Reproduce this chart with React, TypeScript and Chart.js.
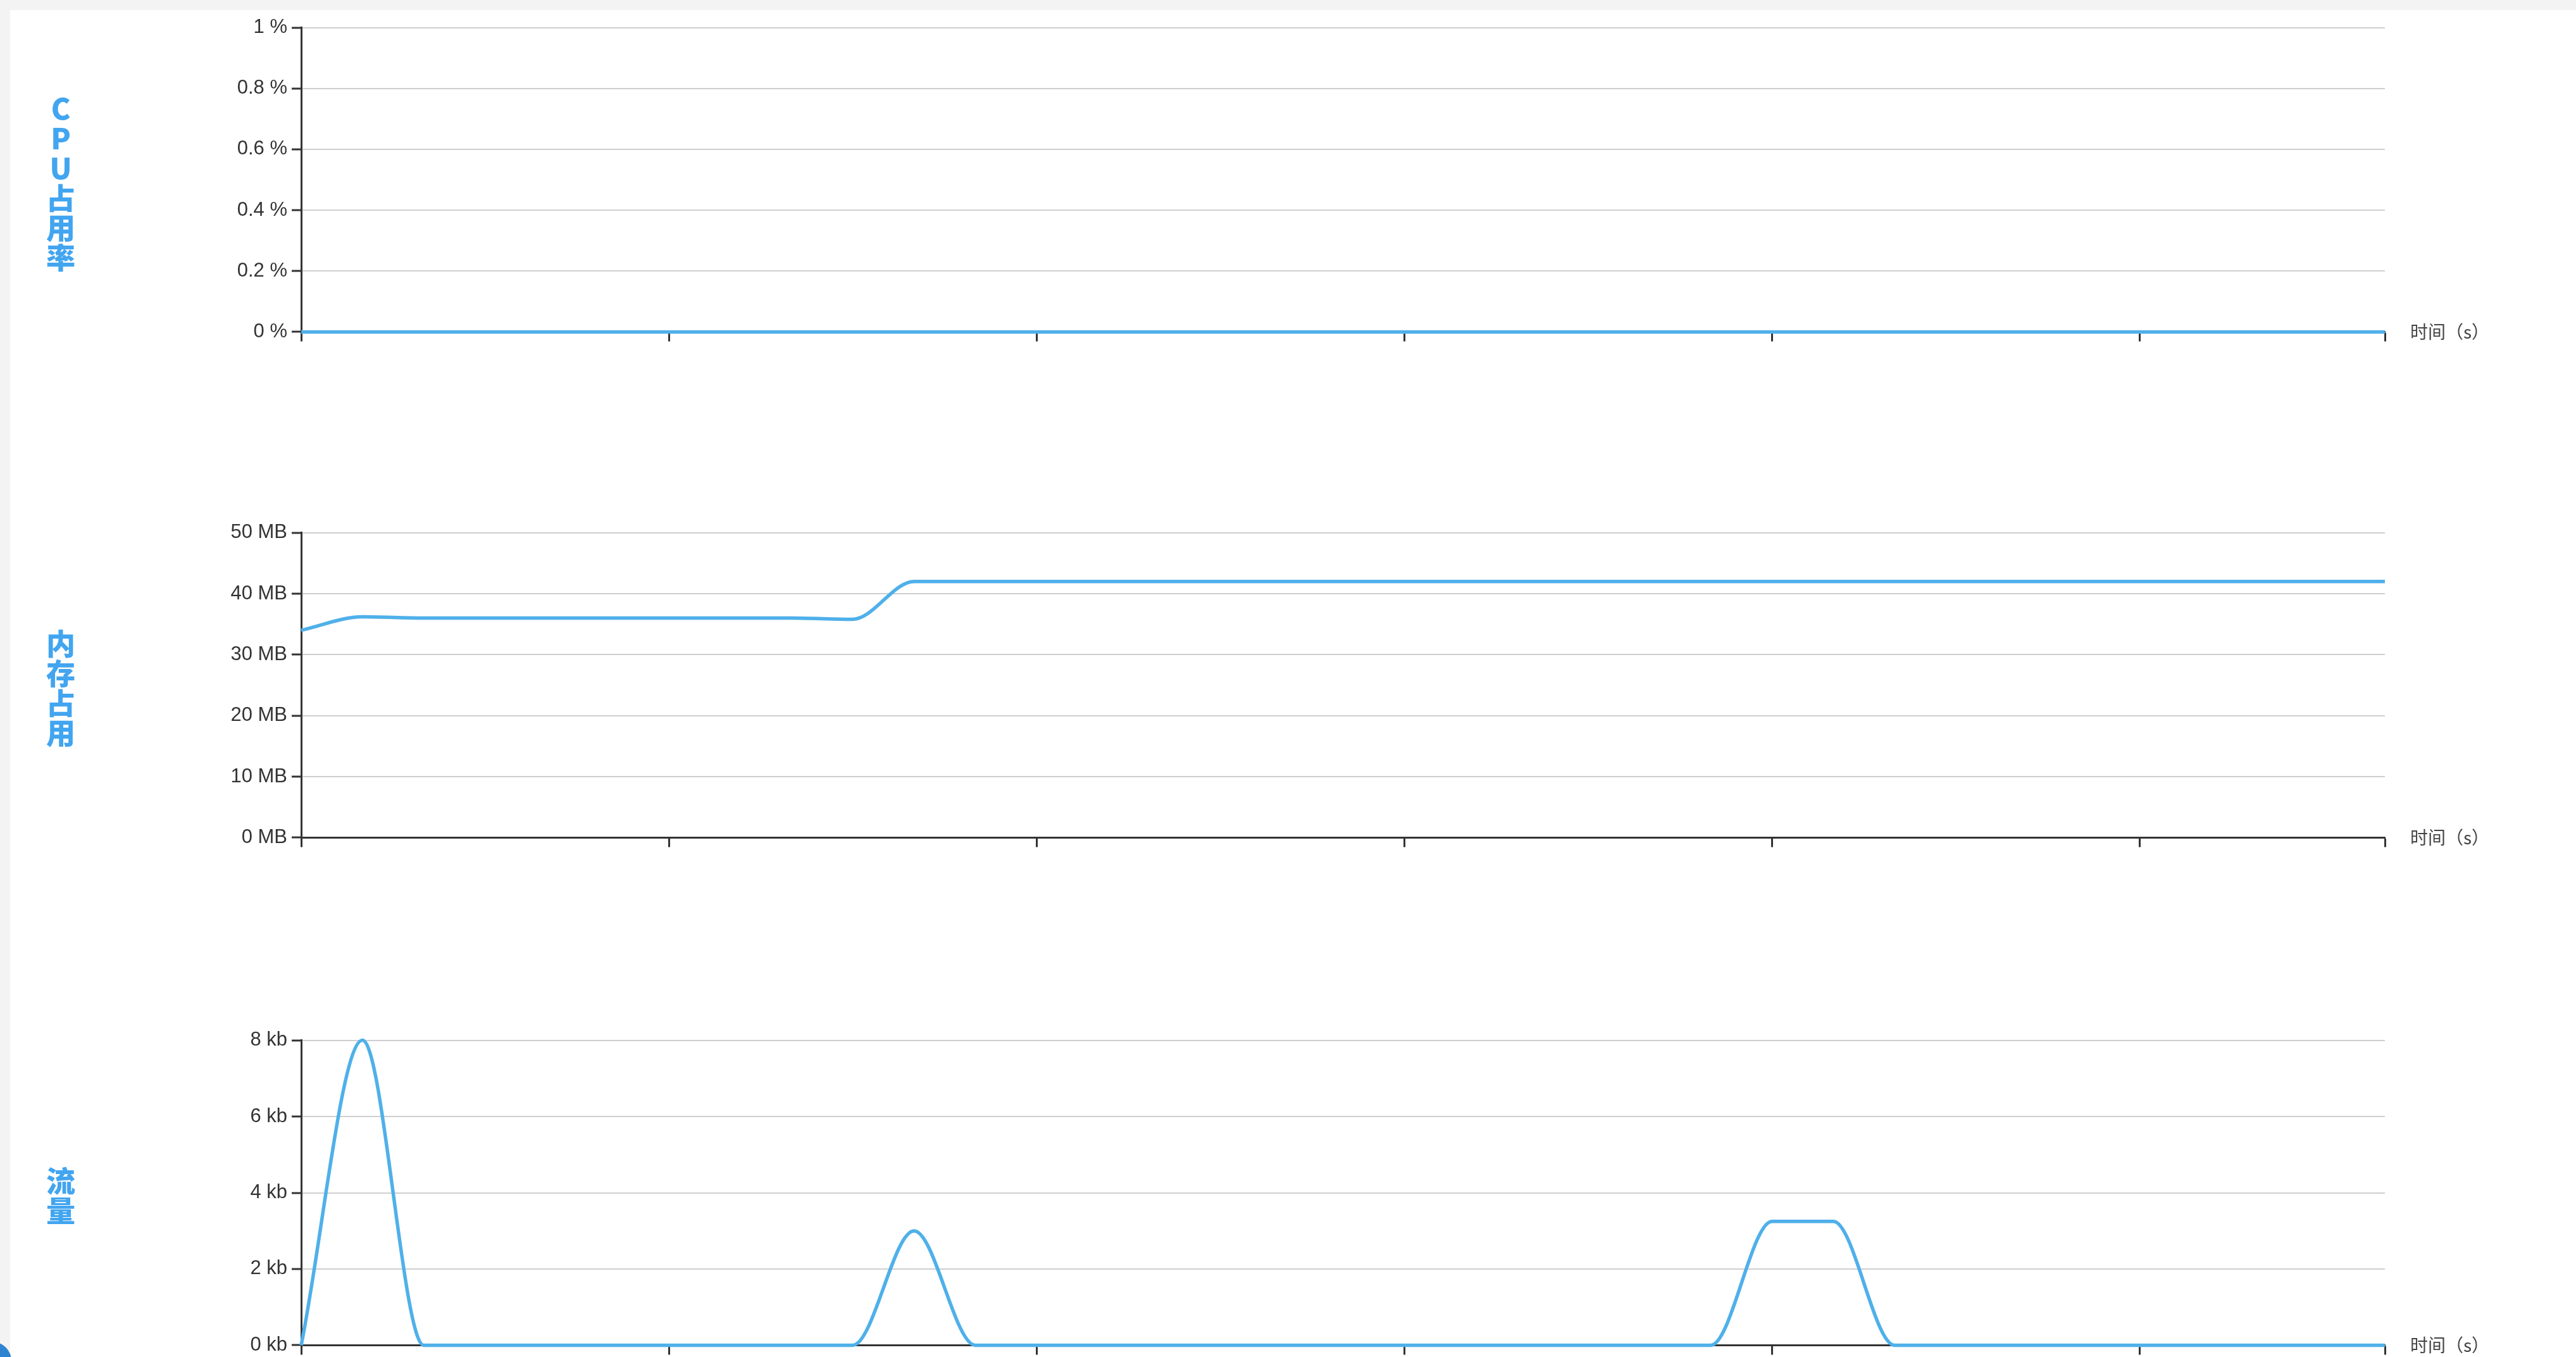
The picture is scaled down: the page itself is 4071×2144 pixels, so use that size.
import React, { useEffect, useRef } from "react";
import { Chart, registerables } from "chart.js";

Chart.register(...registerables);

// ---------------- data ----------------
const timeLabels = [
  "0", "1", "2", "3", "4", "5", "6", "7", "8", "9",
  "10", "11", "12", "13", "14", "15", "16", "17", "18", "19",
  "20", "21", "22", "23", "24", "25", "26", "27", "28", "29",
  "30", "31", "32", "33", "34",
];
const xTickIndices = [0, 6, 12, 18, 24, 30, 34];

const cpuValues = [
  0, 0, 0, 0, 0, 0, 0, 0, 0, 0,
  0, 0, 0, 0, 0, 0, 0, 0, 0, 0,
  0, 0, 0, 0, 0, 0, 0, 0, 0, 0,
  0, 0, 0, 0, 0,
];
const memoryValues = [
  34, 36.2, 36.0, 36, 36, 36, 36, 36, 36, 35.8,
  42, 42, 42, 42, 42, 42, 42, 42, 42, 42,
  42, 42, 42, 42, 42, 42, 42, 42, 42, 42,
  42, 42, 42, 42, 42,
];
const trafficValues = [
  0, 8, 0, 0, 0, 0, 0, 0, 0, 0,
  3, 0, 0, 0, 0, 0, 0, 0, 0, 0,
  0, 0, 0, 0, 3.25, 3.25, 0, 0, 0, 0,
  0, 0, 0, 0, 0,
];

const cpuTicks = [0, 0.2, 0.4, 0.6, 0.8, 1];
const cpuTickLabels = ["0 %", "0.2 %", "0.4 %", "0.6 %", "0.8 %", "1 %"];
const memoryTicks = [0, 10, 20, 30, 40, 50];
const memoryTickLabels = ["0 MB", "10 MB", "20 MB", "30 MB", "40 MB", "50 MB"];
const trafficTicks = [0, 2, 4, 6, 8];
const trafficTickLabels = ["0 kb", "2 kb", "4 kb", "6 kb", "8 kb"];

const panelTitles = ["CPU占用率", "内存占用", "流量"];
const xAxisTitle = "时间（s）";

// ---------------- layout / style ----------------
const W = 4071;
const H = 2144;
const AXIS_LEFT = 476;
const AXIS_RIGHT = 3769;
const PLOT_TOPS = [43, 841, 1643];
const PLOT_BOTTOMS = [530, 1329, 2131];
const PAD_TOP = 25;
const TICK_LEN = 15;
const PAD_BOTTOM = 5;
const LINE_COLOR = "#4fb0ea";
const AXIS_COLOR = "#333333";
const GRID_COLOR = "#cfcfcf";
const TITLE_COLOR = "#42a5f0";

const timeTitlePlugin = {
  id: "timeTitle",
  afterDraw(chart: any) {
    const { ctx, chartArea } = chart;
    ctx.save();
    ctx.font = '28px "Noto Sans CJK SC", sans-serif';
    ctx.fillStyle = "#444444";
    ctx.textAlign = "left";
    ctx.textBaseline = "middle";
    ctx.fillText(xAxisTitle, chartArea.right + 40, chartArea.bottom);
    ctx.restore();
  },
};

function LineChart(props: {
  values: number[];
  yMax: number;
  yTicks: number[];
  yTickLabels: string[];
  top: number;
  height: number;
}) {
  const ref = useRef<HTMLCanvasElement | null>(null);
  useEffect(() => {
    if (!ref.current) return;
    const { values, yMax, yTicks, yTickLabels } = props;
    const chart = new Chart(ref.current, {
      type: "line",
      data: {
        labels: timeLabels,
        datasets: [
          {
            data: values,
            borderColor: LINE_COLOR,
            borderWidth: 5.5,
            pointRadius: 0,
            fill: false,
            clip: 10,
            cubicInterpolationMode: "monotone",
          },
        ],
      },
      options: {
        animation: false,
        responsive: false,
        maintainAspectRatio: false,
        devicePixelRatio: 1,
        events: [],
        layout: {
          padding: { top: PAD_TOP, right: W - AXIS_RIGHT, bottom: PAD_BOTTOM, left: 0 },
        },
        plugins: {
          legend: { display: false },
          tooltip: { enabled: false },
          title: { display: false },
        },
        scales: {
          x: {
            type: "category",
            offset: false,
            grid: {
              display: true,
              drawOnChartArea: false,
              drawTicks: true,
              tickLength: TICK_LEN,
              tickColor: AXIS_COLOR,
              tickWidth: 3,
              z: -1,
            },
            border: { display: true, color: AXIS_COLOR, width: 3 },
            ticks: { display: false, autoSkip: false },
            afterBuildTicks: (s: any) => {
              s.ticks = xTickIndices.map((v) => ({ value: v }));
            },
            afterFit: (s: any) => {
              s.height = TICK_LEN;
            },
          },
          y: {
            min: 0,
            max: yMax,
            grid: {
              color: GRID_COLOR,
              lineWidth: 2,
              drawTicks: true,
              tickLength: TICK_LEN,
              tickColor: AXIS_COLOR,
              tickWidth: 3,
              z: -1,
            },
            border: { display: true, color: AXIS_COLOR, width: 3 },
            ticks: {
              padding: 7,
              color: "#333333",
              font: { family: '"Liberation Sans", Arial, sans-serif', size: 31 },
              callback: (v: any) => {
                const i = yTicks.indexOf(Number(v));
                return i >= 0 ? yTickLabels[i] : "";
              },
            },
            afterBuildTicks: (s: any) => {
              s.ticks = yTicks.map((v) => ({ value: v }));
            },
            afterFit: (s: any) => {
              s.width = AXIS_LEFT;
            },
          },
        },
      },
      plugins: [timeTitlePlugin],
    } as any);
    return () => chart.destroy();
  }, []);
  return (
    <canvas
      ref={ref}
      width={W}
      height={props.height}
      style={{ position: "absolute", left: 0, top: props.top, width: W, height: props.height }}
    />
  );
}

function VerticalTitle(props: { text: string; centerY: number }) {
  return (
    <div
      style={{
        position: "absolute",
        left: 96 - 30,
        width: 60,
        top: props.centerY,
        transform: "translateY(-50%)",
        display: "flex",
        flexDirection: "column",
        alignItems: "center",
        color: TITLE_COLOR,
        fontFamily: '"Noto Sans CJK SC", sans-serif',
        fontWeight: 900,
        fontSize: 46,
        lineHeight: "47px",
      }}
    >
      {Array.from(props.text).map((ch, i) => (
        <span key={i} style={{ display: "block" }}>
          {ch}
        </span>
      ))}
    </div>
  );
}

export default function App() {
  useEffect(() => {
    document.body.style.margin = "0";
    document.body.style.overflow = "hidden";
  }, []);
  const series = [
    { values: cpuValues, yMax: 1, yTicks: cpuTicks, yTickLabels: cpuTickLabels },
    { values: memoryValues, yMax: 50, yTicks: memoryTicks, yTickLabels: memoryTickLabels },
    { values: trafficValues, yMax: 8, yTicks: trafficTicks, yTickLabels: trafficTickLabels },
  ];
  return (
    <div
      style={{
        position: "fixed",
        left: 0,
        top: 0,
        width: W,
        height: H,
        overflow: "hidden",
        background: "#f3f3f3",
      }}
    >
      <div style={{ position: "absolute", left: 16, top: 16, right: 0, bottom: 0, background: "#ffffff" }} />
      <div
        style={{
          position: "absolute",
          left: -42,
          top: 2120,
          width: 60,
          height: 60,
          borderRadius: "50%",
          background: "#2f84d2",
        }}
      />
      {series.map((s, i) => (
        <LineChart
          key={i}
          values={s.values}
          yMax={s.yMax}
          yTicks={s.yTicks}
          yTickLabels={s.yTickLabels}
          top={PLOT_TOPS[i] - PAD_TOP}
          height={PLOT_BOTTOMS[i] - PLOT_TOPS[i] + PAD_TOP + TICK_LEN + PAD_BOTTOM}
        />
      ))}
      {panelTitles.map((t, i) => (
        <VerticalTitle key={i} text={t} centerY={(PLOT_TOPS[i] + PLOT_BOTTOMS[i]) / 2} />
      ))}
    </div>
  );
}
